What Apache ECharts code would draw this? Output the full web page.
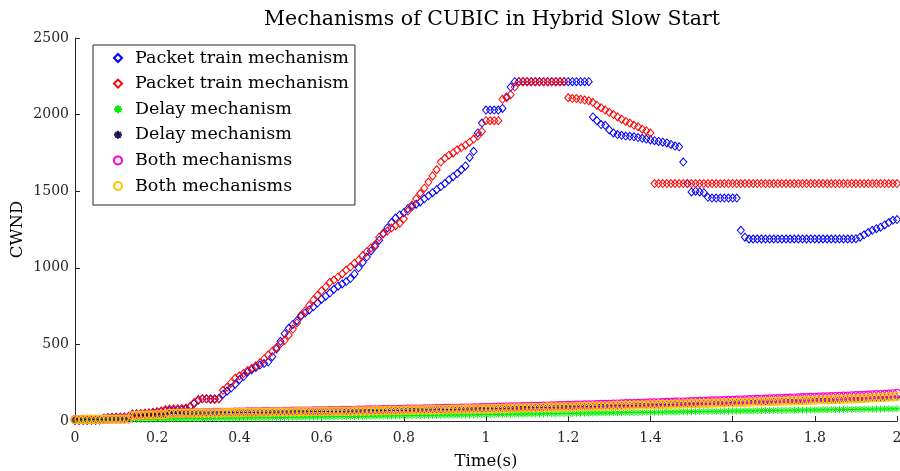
<!DOCTYPE html>
<html><head><meta charset="utf-8">
<script src="https://cdn.jsdelivr.net/npm/echarts@6/dist/echarts.min.js"></script>
<style>html,body{margin:0;padding:0;background:#fff}#c{width:900px;height:471px}</style>
</head><body><div id="c"></div>
<script>
// Sampling times (s)
const time = [
0.00,0.01,0.02,0.03,0.04,0.05,0.06,0.07,0.08,0.09,
0.10,0.11,0.12,0.13,0.14,0.15,0.16,0.17,0.18,0.19,
0.20,0.21,0.22,0.23,0.24,0.25,0.26,0.27,0.28,0.29,
0.30,0.31,0.32,0.33,0.34,0.35,0.36,0.37,0.38,0.39,
0.40,0.41,0.42,0.43,0.44,0.45,0.46,0.47,0.48,0.49,
0.50,0.51,0.52,0.53,0.54,0.55,0.56,0.57,0.58,0.59,
0.60,0.61,0.62,0.63,0.64,0.65,0.66,0.67,0.68,0.69,
0.70,0.71,0.72,0.73,0.74,0.75,0.76,0.77,0.78,0.79,
0.80,0.81,0.82,0.83,0.84,0.85,0.86,0.87,0.88,0.89,
0.90,0.91,0.92,0.93,0.94,0.95,0.96,0.97,0.98,0.99,
1.00,1.01,1.02,1.03,1.04,1.05,1.06,1.07,1.08,1.09,
1.10,1.11,1.12,1.13,1.14,1.15,1.16,1.17,1.18,1.19,
1.20,1.21,1.22,1.23,1.24,1.25,1.26,1.27,1.28,1.29,
1.30,1.31,1.32,1.33,1.34,1.35,1.36,1.37,1.38,1.39,
1.40,1.41,1.42,1.43,1.44,1.45,1.46,1.47,1.48,1.49,
1.50,1.51,1.52,1.53,1.54,1.55,1.56,1.57,1.58,1.59,
1.60,1.61,1.62,1.63,1.64,1.65,1.66,1.67,1.68,1.69,
1.70,1.71,1.72,1.73,1.74,1.75,1.76,1.77,1.78,1.79,
1.80,1.81,1.82,1.83,1.84,1.85,1.86,1.87,1.88,1.89,
1.90,1.91,1.92,1.93,1.94,1.95,1.96,1.97,1.98,1.99,
2.00
];

// Packet train mechanism (blue diamonds)
const packetTrainBlue = [
3,3,4,4,5,5,6,18,22,24,
25,25,26,27,45,47,48,50,52,55,
60,63,66,68,70,72,74,80,95,115,
135,145,145,145,145,145,175,195,215,240,
270,290,320,335,350,365,375,385,420,470,
520,570,605,630,655,685,705,725,745,770,
795,815,835,860,880,895,910,930,960,1000,
1035,1070,1110,1140,1180,1225,1260,1295,1325,1345,
1360,1385,1400,1415,1430,1450,1470,1490,1510,1530,
1550,1575,1595,1615,1640,1665,1720,1760,1880,1945,
2030,2030,2030,2030,2040,2115,2180,2215,2215,2215,
2215,2215,2215,2215,2215,2215,2215,2215,2215,2215,
2215,2215,2215,2215,2215,2215,1985,1960,1935,1930,
1900,1880,1870,1865,1860,1858,1855,1850,1845,1840,
1835,1830,1825,1820,1815,1805,1795,1790,1690,1550,
1495,1500,1495,1490,1460,1455,1455,1455,1455,1455,
1455,1455,1245,1200,1188,1188,1188,1188,1188,1188,
1188,1188,1188,1188,1188,1188,1188,1188,1188,1188,
1188,1188,1188,1188,1188,1188,1188,1188,1188,1188,
1190,1200,1215,1230,1245,1255,1265,1280,1295,1310,
1315
];

// Packet train mechanism (red diamonds)
const packetTrainRed = [
5,5,6,6,7,8,8,15,20,22,
24,25,26,30,42,45,48,50,52,55,
58,65,75,78,80,80,82,85,90,120,
140,145,145,140,140,145,200,220,250,280,
295,310,330,345,360,380,405,430,455,480,
505,525,560,600,640,690,720,755,790,820,
850,875,905,920,940,960,985,1005,1030,1050,
1080,1105,1130,1150,1200,1220,1240,1260,1275,1290,
1320,1370,1410,1450,1485,1520,1560,1600,1640,1690,
1715,1735,1750,1770,1785,1800,1820,1840,1860,1890,
1960,1960,1960,1960,2100,2110,2130,2180,2215,2215,
2215,2215,2215,2215,2215,2215,2215,2215,2215,2215,
2110,2105,2105,2100,2095,2090,2080,2060,2045,2030,
2015,2000,1985,1970,1955,1945,1930,1920,1905,1895,
1880,1550,1550,1550,1550,1550,1550,1550,1550,1550,
1550,1550,1550,1550,1550,1550,1550,1550,1550,1550,
1550,1550,1550,1550,1550,1550,1550,1550,1550,1550,
1550,1550,1550,1550,1550,1550,1550,1550,1550,1550,
1550,1550,1550,1550,1550,1550,1550,1550,1550,1550,
1550,1550,1550,1550,1550,1550,1550,1550,1550,1550,
1550
];

// Delay mechanism (green asterisks)
const delayGreen = [
4,4,5,5,5,6,6,6,7,7,
8,8,8,9,9,10,10,10,11,11,
12,12,12,13,13,14,14,14,15,15,
15,16,16,17,17,17,18,18,19,19,
19,20,20,21,21,21,22,22,22,23,
23,24,24,24,25,25,26,26,26,27,
27,27,28,28,29,29,29,30,30,30,
31,31,31,32,32,33,33,33,34,34,
34,35,35,36,36,36,37,37,37,38,
38,39,39,39,40,40,40,41,41,42,
42,42,43,43,43,44,44,45,45,45,
46,46,46,47,47,48,48,48,49,49,
49,50,50,51,51,51,52,52,53,53,
53,54,54,54,55,55,56,56,56,57,
57,57,58,58,59,59,59,60,60,60,
61,61,62,62,62,63,63,63,64,64,
65,65,65,66,66,66,67,67,68,68,
68,69,69,69,70,70,71,71,71,72,
72,72,73,73,74,74,74,75,75,75,
76,76,77,77,77,78,78,78,79,79,
80
];

// Delay mechanism (dark asterisks)
const delayDark = [
8,8,9,9,10,10,10,11,11,12,
12,12,13,13,34,35,36,37,38,39,
40,40,41,49,49,50,50,51,51,51,
52,52,52,53,53,53,54,54,54,55,
55,55,56,56,56,57,57,57,58,58,
58,59,59,59,60,60,60,61,61,61,
62,62,62,63,63,63,64,64,65,65,
65,66,66,67,67,67,68,68,69,69,
70,70,71,71,72,72,73,73,74,74,
75,75,76,76,77,77,78,78,79,79,
80,80,81,81,82,83,83,84,84,85,
86,86,87,87,88,89,89,90,90,91,
92,92,93,94,94,95,95,96,97,97,
98,99,99,100,101,101,102,103,103,104,
105,105,106,107,107,108,109,109,110,111,
112,112,113,114,114,115,116,117,117,118,
119,120,120,121,122,123,123,124,125,126,
127,127,128,129,130,131,131,132,133,134,
135,136,136,137,138,139,140,141,141,142,
143,144,145,146,147,148,149,150,151,152,
154
];

// Both mechanisms (magenta circles)
const bothMagenta = [
9,9,10,10,11,11,11,12,12,13,
13,13,14,14,37,38,38,39,40,41,
41,42,42,51,51,52,52,53,53,54,
54,54,55,55,56,56,56,57,57,58,
58,58,59,59,60,60,61,61,61,62,
62,63,63,64,64,64,65,65,66,66,
67,67,68,68,68,69,69,70,70,71,
71,72,72,73,73,74,74,75,75,76,
76,77,77,78,78,79,79,80,81,81,
82,82,83,83,84,85,85,86,86,87,
88,88,89,90,90,91,92,92,93,94,
94,95,96,96,97,98,99,99,100,101,
102,102,103,104,105,105,106,107,108,109,
109,110,111,112,113,113,114,115,116,117,
118,118,119,120,121,122,123,124,124,125,
126,127,128,129,130,131,131,132,133,134,
135,136,137,138,139,140,141,142,143,144,
145,146,147,148,149,150,151,152,153,154,
155,156,157,158,159,160,161,162,163,164,
165,166,168,169,170,172,173,174,176,178,
180
];

// Both mechanisms (yellow circles)
const bothYellow = [
8,9,9,10,10,10,11,11,12,12,
12,13,13,14,36,37,38,39,40,40,
41,41,42,50,50,51,51,52,52,52,
53,53,53,54,54,54,55,55,55,56,
56,56,57,57,57,58,58,58,59,59,
59,60,60,60,61,61,61,62,62,62,
63,63,63,64,64,64,65,65,66,66,
66,67,67,68,68,68,69,69,70,70,
71,71,72,72,73,73,74,74,75,75,
76,76,77,77,78,78,79,79,80,80,
81,81,82,82,83,84,84,85,85,86,
87,87,88,88,89,90,90,91,91,92,
93,93,94,95,95,96,96,97,98,98,
99,100,100,101,102,102,103,104,104,105,
106,106,107,108,108,109,110,110,111,112,
113,113,114,115,115,116,117,118,118,119,
120,121,121,122,123,124,124,125,126,127,
128,128,129,130,131,132,132,133,134,135,
136,137,137,138,139,140,141,142,142,143,
145,146,147,149,150,151,153,154,156,157,
160
];

const xTicks = [0, 0.2, 0.4, 0.6, 0.8, 1, 1.2, 1.4, 1.6, 1.8, 2];
const yTicks = [0, 500, 1000, 1500, 2000, 2500];

const FONT = 'DejaVu Serif';
const AX = '#262626';
const ASTERISK = 'path://M0,-10L0,10M-10,0L10,0M-7.07,-7.07L7.07,7.07M-7.07,7.07L7.07,-7.07';
const ZW = '\u200B';

function pairs(ys) { return time.map((t, i) => [t, ys[i]]); }

function hollow(name, data, symbol, color, size, bw) {
  return {
    name, type: 'scatter', data: pairs(data), symbol, symbolSize: size,
    itemStyle: { color: 'rgba(0,0,0,0)', borderColor: color, borderWidth: bw || 1, opacity: 1 },
    emphasis: { disabled: true }, animation: false
  };
}

const series = [
  hollow('Packet train mechanism', packetTrainBlue, 'diamond', '#0000ff', [7, 8]),
  hollow('Packet train mechanism' + ZW, packetTrainRed, 'diamond', '#ff0000', [7, 8]),
  hollow('Delay mechanism', delayGreen, ASTERISK, '#00ee00', 7),
  hollow('Delay mechanism' + ZW, delayDark, ASTERISK, '#1a1a50', 6),
  hollow('Both mechanisms', bothMagenta, 'circle', '#ff00cc', 8, 1.2),
  hollow('Both mechanisms' + ZW, bothYellow, 'circle', '#ffc400', 8, 1.2)
];

const chart = echarts.init(document.getElementById('c'), null, { renderer: 'canvas' });
chart.setOption({
  animation: false,
  backgroundColor: '#ffffff',
  title: {
    text: 'Mechanisms of CUBIC in Hybrid Slow Start',
    left: 487, top: 4, textAlign: 'center',
    textStyle: { fontFamily: FONT, fontSize: 20.5, fontWeight: 'normal', color: '#000' }
  },
  grid: { left: 75, right: 3, top: 38, bottom: 50, containLabel: false, outerBoundsMode: 'none' },
  legend: {
    orient: 'vertical', left: 93, top: 45,
    backgroundColor: '#fff', borderColor: AX, borderWidth: 1, borderRadius: 0,
    padding: [4, 6, 10, 20], itemWidth: 8, itemHeight: 8, itemGap: 7.6,
    selectedMode: false, symbolKeepAspect: true,
    formatter: n => n.replace(/\u200B/g, ''),
    textStyle: { fontFamily: FONT, fontSize: 17.5, color: '#000', lineHeight: 18, padding: [0, 0, 0, 8] }
  },
  xAxis: {
    type: 'value', min: 0, max: 2, interval: 0.2,
    name: 'Time(s)', nameLocation: 'middle', nameGap: 32, nameMoveOverlap: false,
    nameTextStyle: { fontFamily: FONT, fontSize: 16.5, color: '#000' },
    axisLine: { show: true, lineStyle: { color: AX, width: 1 } },
    axisTick: { show: true, inside: true, length: 5, lineStyle: { color: AX } },
    axisLabel: { fontFamily: FONT, fontSize: 14, color: AX, margin: 10,
      formatter: v => String(+v.toFixed(1)) },
    splitLine: { show: false }
  },
  yAxis: {
    type: 'value', min: 0, max: 2500, interval: 500,
    name: 'CWND', nameLocation: 'middle', nameGap: 49, nameMoveOverlap: false,
    nameTextStyle: { fontFamily: FONT, fontSize: 16.5, color: '#000' },
    axisLine: { show: true, lineStyle: { color: AX, width: 1 } },
    axisTick: { show: true, inside: true, length: 5, lineStyle: { color: AX } },
    axisLabel: { fontFamily: FONT, fontSize: 14, color: AX, margin: 6,
      formatter: v => String(v) },
    splitLine: { show: false }
  },
  series
});
</script></body></html>
